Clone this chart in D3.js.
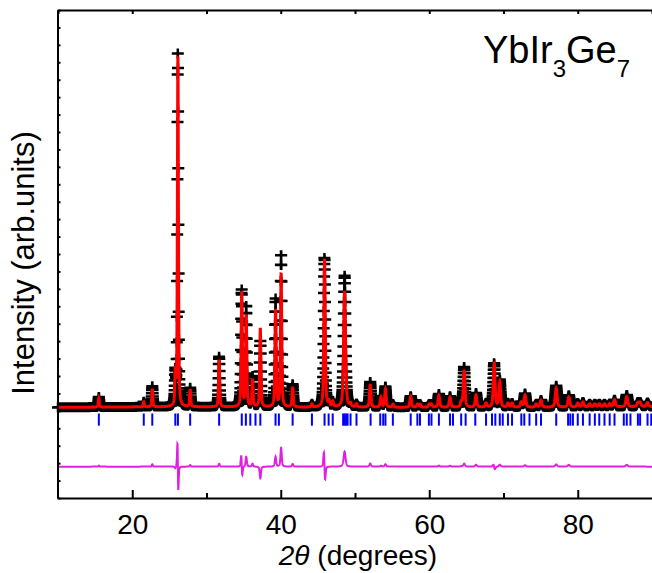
<!DOCTYPE html>
<html>
<head>
<meta charset="utf-8">
<script src="https://cdn.jsdelivr.net/npm/d3@7"></script>
<style>
  body { margin: 0; background: #fff; }
  text { font-family: "Liberation Sans", Arial, sans-serif; }
</style>
</head>
<body>
<div id="chart"></div>
<script>
// Peak list (2theta in degrees, heights in counts above background)
const peakPos   = [15.5, 21.55, 22.7, 25.8, 26.15, 27.8, 31.7, 34.75, 35.35, 36.2, 37.25, 39.3, 40.05, 41.6, 44.2,
                   45.9, 46.5, 47.0, 48.6, 49.4, 50.2, 52.05, 53.5, 54.1, 55.1, 57.5, 58.4, 58.75, 60.0, 60.3,
                   61.3, 62.8, 64.3, 64.7, 66.3, 67.65, 68.75, 69.5, 70.6, 71.15, 72.4, 72.9, 74.4, 75.05, 77.1,
                   78.8, 80.0, 80.7, 81.6, 82.3, 82.9, 83.6, 84.3, 84.95, 86.6, 88.1, 88.4, 89.4];
const peakObs   = [115, 58, 235, 345, 4048, 215, 575, 1334, 1150, 345, 759, 1231, 1748, 260, 35,
                   1714, 58, 58, 1507, 35, 35, 290, 125, 235, 35, 127, 35, 35, 35, 35,
                   150, 125, 62, 460, 160, 46, 500, 310, 46, 46, 58, 155, 35, 81, 245,
                   135, 46, 58, 35, 35, 35, 35, 35, 81, 135, 46, 46, 46];
const peakCalc  = [104, 58, 207, 368, 4048, 196, 541, 1311, 1035, 311, 897, 1116, 1530, 230, 35,
                   1702, 58, 58, 1334, 35, 35, 253, 115, 207, 35, 127, 35, 35, 35, 35,
                   138, 115, 58, 426, 138, 46, 506, 288, 46, 46, 58, 138, 35, 81, 219,
                   115, 46, 58, 35, 35, 35, 35, 35, 81, 115, 46, 46, 46];
const peakWidth = [0.16, 0.16, 0.16, 0.16, 0.16, 0.17, 0.18, 0.19, 0.19, 0.19, 0.19, 0.2, 0.2, 0.2, 0.2,
                   0.22, 0.22, 0.22, 0.3, 0.22, 0.22, 0.23, 0.23, 0.23, 0.23, 0.24, 0.24, 0.24, 0.25, 0.25,
                   0.25, 0.26, 0.26, 0.26, 0.26, 0.27, 0.27, 0.27, 0.27, 0.27, 0.28, 0.28, 0.28, 0.28, 0.3,
                   0.3, 0.3, 0.3, 0.3, 0.3, 0.3, 0.3, 0.3, 0.32, 0.32, 0.32, 0.32, 0.32];
// small misfit of observed peak positions (gives the derivative shapes in the difference curve)
const peakShift = {26.15: -0.008, 34.75: -0.012, 45.9: -0.015, 68.75: -0.01};

// background level read at a few angles
const bgPos = [10, 20, 30, 40, 50, 60, 70, 80, 90];
const bgVal = [40, 45, 45, 40, 40, 40, 40, 42, 48];

// Bragg reflection positions (blue ticks)
const braggPos = [15.5, 21.55, 22.7, 25.8, 26.15, 27.8, 31.7, 34.75, 35.3, 35.9, 36.6, 37.25, 39.3, 39.75, 41.6,
                  44.2, 45.9, 46.45, 47.0, 48.4, 48.6, 48.8, 49.0, 49.4, 50.2, 52.1, 53.4, 53.8, 54.1, 55.1,
                  57.5, 58.4, 58.75, 59.95, 60.3, 61.3, 62.8, 63.2, 64.3, 64.9, 66.2, 67.65, 68.45, 68.9, 69.5,
                  69.9, 70.6, 71.15, 72.4, 72.8, 73.5, 74.4, 75.05, 77.1, 78.7, 79.0, 79.35, 80.0, 80.7, 81.6,
                  82.3, 82.9, 83.6, 84.3, 84.95, 86.2, 86.6, 87.1, 88.1, 88.4, 89.4, 89.9];

const xTicks = [20, 40, 60, 80];
const step = 0.02;
const diffOffset = -640;

const svg = d3.select("#chart").append("svg")
  .attr("width", 652)
  .attr("height", 573);

const x = d3.scaleLinear().domain([10, 90]).range([58, 652]);
const y = d3.scaleLinear().domain([-1000, 4600]).range([498, 10]);
const bg = d3.scaleLinear().domain(bgPos).range(bgVal);

// pseudo-Voigt peak
function pv(t, c, h, w) {
  const d = (t - c) / w;
  const g = Math.exp(-4 * Math.LN2 * d * d);
  const l = 1 / (1 + 4 * d * d);
  return h * (0.5 * g + 0.5 * l);
}

const pts = [];
for (let t = 10; t <= 90.0001; t += step) {
  let obs = bg(t), calc = bg(t);
  peakPos.forEach((c, i) => {
    obs += pv(t, c + (peakShift[c] || 0), peakObs[i], peakWidth[i]);
    calc += pv(t, c, peakCalc[i], peakWidth[i]);
  });
  pts.push({t, obs, calc});
}

// observed: "+" markers
let d = "";
pts.forEach(p => {
  const px = x(p.t), py = y(p.obs);
  d += `M${(px - 6).toFixed(1)},${py.toFixed(1)}h12M${px.toFixed(1)},${(py - 5).toFixed(1)}v10`;
});
svg.append("path")
  .attr("d", d)
  .attr("fill", "none")
  .attr("stroke", "#000")
  .attr("stroke-width", 2.5);

// calculated
svg.append("path")
  .datum(pts)
  .attr("fill", "none")
  .attr("stroke", "#ff0000")
  .attr("stroke-width", 3)
  .attr("d", d3.line().x(p => x(p.t)).y(p => y(p.calc)));

// Bragg ticks
svg.selectAll(".bragg")
  .data(braggPos)
  .enter()
  .append("line")
  .attr("x1", t => x(t)).attr("x2", t => x(t))
  .attr("y1", y(-30)).attr("y2", y(-170))
  .attr("stroke", "#0000ff")
  .attr("stroke-width", 2);

// difference
svg.append("path")
  .datum(pts)
  .attr("fill", "none")
  .attr("stroke", "#e020e0")
  .attr("stroke-width", 2)
  .attr("d", d3.line().x(p => x(p.t)).y(p => y(p.obs - p.calc + diffOffset)));

// axes
const xb = svg.append("g")
  .attr("transform", "translate(0,498)")
  .call(d3.axisBottom(x).tickValues(xTicks).tickSize(-8).tickSizeOuter(0).tickPadding(16));
svg.append("g")
  .attr("transform", "translate(0,498)")
  .call(d3.axisBottom(x).tickValues([30, 50, 70]).tickSize(-5).tickFormat(""))
  .select(".domain").remove();
svg.append("g")
  .attr("transform", "translate(0,10)")
  .call(d3.axisTop(x).tickValues(d3.range(10, 91, 10)).tickSize(-4).tickSizeOuter(0).tickFormat(""));
svg.append("g")
  .attr("transform", "translate(57.5,0)")
  .call(d3.axisLeft(y).tickValues(d3.range(-1000, 4601, 200)).tickSize(-3).tickSizeOuter(0).tickFormat(""));

svg.selectAll(".domain").attr("stroke", "#000").attr("stroke-width", 2);
svg.selectAll(".tick line").attr("stroke", "#000").attr("stroke-width", 2);
xb.selectAll("text")
  .style("font-size", "28px")
  .style("font-family", "'Liberation Sans', Arial, sans-serif")
  .attr("fill", "#000");

// labels
svg.append("text")
  .attr("transform", "rotate(-90)")
  .attr("x", -263)
  .attr("y", 34)
  .attr("text-anchor", "middle")
  .style("font-size", "31px")
  .text("Intensity (arb.units)");

const xl = svg.append("text")
  .attr("x", 358)
  .attr("y", 565)
  .attr("text-anchor", "middle")
  .style("font-size", "28px");
xl.append("tspan").style("font-style", "italic").text("2θ");
xl.append("tspan").text(" (degrees)");

const title = svg.append("text")
  .attr("x", 483)
  .attr("y", 63)
  .style("font-size", "38px");
title.append("tspan").text("YbIr");
title.append("tspan").attr("dy", 14).style("font-size", "24px").text("3");
title.append("tspan").attr("dy", -14).text("Ge");
title.append("tspan").attr("dy", 14).style("font-size", "24px").text("7");
</script>
</body>
</html>
